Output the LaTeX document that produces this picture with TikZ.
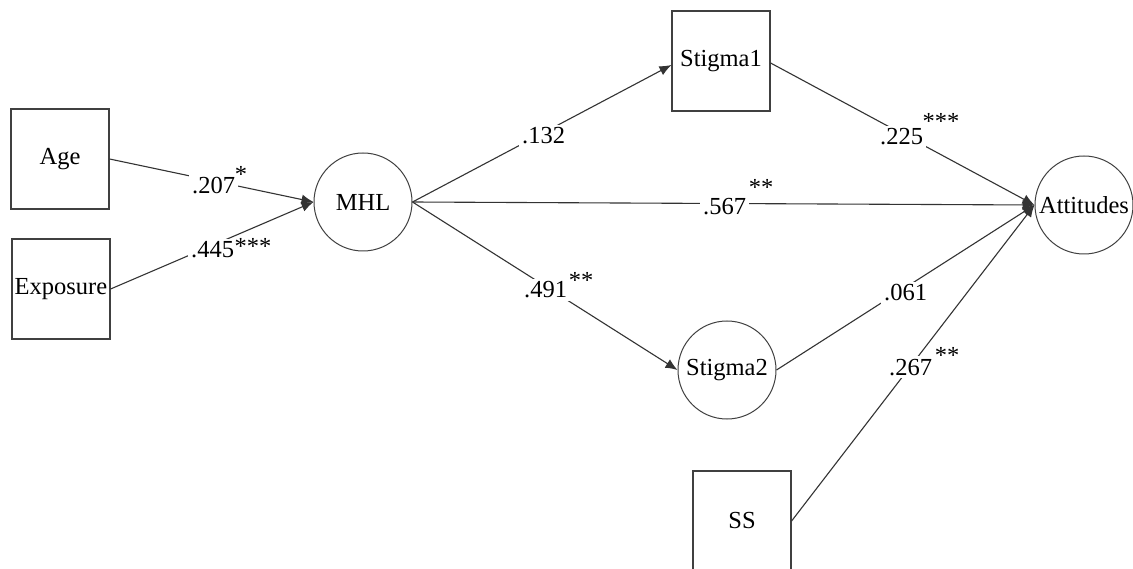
\documentclass[tikz,border=0pt]{standalone}
\usepackage{fontspec}
\setmainfont{Liberation Serif}
\newfontfamily\diagserif{Liberation Serif}
\usetikzlibrary{arrows.meta}
\newcommand{\diagfont}{\diagserif\fontsize{24.5}{29}\selectfont}
\begin{document}
\begin{tikzpicture}[x=1pt,y=-1pt,
  box/.style={draw=black!75, line width=1.2pt, minimum width=98pt, minimum height=100pt, inner sep=0pt, font=\diagfont},
  circ/.style={circle, draw=black!75, line width=1pt, minimum size=98pt, inner sep=0pt, font=\diagfont},
  arr/.style={draw=black!80, line width=1.1pt, -{Latex[length=12pt,width=10pt]}},
  lab/.style={fill=white, inner sep=3pt, anchor=base west, font=\diagfont},
  sig/.style={inner sep=0pt, anchor=base, font=\diagfont}]
\useasboundingbox (0,0) rectangle (1133,569);
\fill[white] (0,0) rectangle (1133,569);
% nodes
\node[box] (age) at (60,159) {Age};
\node[box] (exp) at (61,289) {Exposure};
\node[circ] (mhl) at (363,202) {MHL};
\node[box] (s1) at (721,61) {Stigma1};
\node[circ] (s2) at (727,370) {Stigma2};
\node[circ] (att) at (1084,205) {Attitudes};
\node[box] (ss) at (742,521) {SS};
% connectors
\draw[arr] (age.east) -- (mhl.west);
\draw[arr] (exp.east) -- (mhl.west);
\draw[arr] (mhl.east) -- ([yshift=-4pt]s1.west);
\draw[arr] (mhl.east) -- (att.west);
\draw[arr] (mhl.east) -- (s2.west);
\draw[arr] ([yshift=-2pt]s1.east) -- (att.west);
\draw[arr] (s2.east) -- (att.west);
\draw[arr] (ss.east) -- (att.west);
% labels
\node[lab] (l1) at (189,194) {.207};
\node[sig] (l1s) at (241,183) {*};
\node[lab] (l2) at (188,258) {.445};
\node[sig] (l2s) at (253,255) {***};
\node[lab] (l3) at (519,144) {.132};
\node[lab] (l4) at (877,145) {.225};
\node[sig] (l4s) at (941,130) {***};
\node[lab] (l5) at (700,215) {.567};
\node[sig] (l5s) at (761,196) {**};
\node[lab] (l6) at (521,298) {.491};
\node[sig] (l6s) at (581,289) {**};
\node[lab] (l7) at (881,301) {.061};
\node[lab] (l8) at (886,375) {.267};
\node[sig] (l8s) at (947,364) {**};
\end{tikzpicture}
\end{document}
